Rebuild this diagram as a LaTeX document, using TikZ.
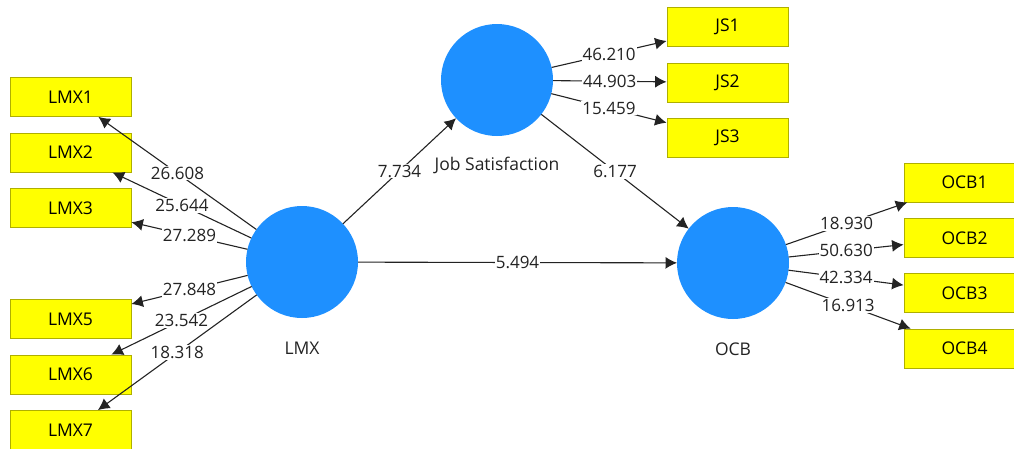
\documentclass[tikz,border=0pt]{standalone}
\usepackage{fontspec}
\setmainfont{Open Sans}
\usetikzlibrary{arrows.meta}
\definecolor{lvblue}{RGB}{30,144,255}
\definecolor{boxfill}{RGB}{255,255,0}
\definecolor{boxline}{RGB}{175,175,0}
\definecolor{edgecol}{RGB}{35,35,35}
\begin{document}
\begin{tikzpicture}[x=1pt,y=-1pt,
  latent/.style={circle,fill=lvblue,minimum size=112pt,inner sep=0pt,outer sep=0pt},
  lvname/.style={anchor=center,label distance=30pt,font=\fontsize{17.5}{20}\selectfont,text=edgecol},
  indicator/.style={rectangle,fill=boxfill,draw=boxline,line width=0.8pt,minimum width=121pt,minimum height=39pt,font=\fontsize{17.5}{20}\selectfont},
  conn/.style={draw=edgecol,line width=1.1pt,-{Latex[length=11.5pt,width=12pt]}},
  wt/.style={fill=white,inner sep=1pt,font=\fontsize{17}{20}\selectfont,text=edgecol}
]
\useasboundingbox (0,0) rectangle (1014,448);
% latent variables
\node[latent,label={[lvname]below:LMX}] (LMX) at (302,262) {};
\node[latent,label={[lvname,label distance=29pt]below:Job Satisfaction}] (JS) at (497,80) {};
\node[latent,label={[lvname]below:OCB}] (OCB) at (733,263) {};
% LMX indicators
\node[indicator] (LMX1) at (70.5,97) {LMX1};
\node[indicator] (LMX2) at (70.5,152.5) {LMX2};
\node[indicator] (LMX3) at (70.5,208) {LMX3};
\node[indicator] (LMX5) at (70.5,319) {LMX5};
\node[indicator] (LMX6) at (70.5,374.5) {LMX6};
\node[indicator] (LMX7) at (70.5,430) {LMX7};
% JS indicators
\node[indicator] (JS1) at (727.5,27) {JS1};
\node[indicator] (JS2) at (727.5,82.5) {JS2};
\node[indicator] (JS3) at (727.5,138) {JS3};
% OCB indicators
\node[indicator] (OCB1) at (964.5,182.5) {OCB1};
\node[indicator] (OCB2) at (964.5,238) {OCB2};
\node[indicator] (OCB3) at (964.5,293) {OCB3};
\node[indicator] (OCB4) at (964.5,348.5) {OCB4};
% outer loadings
\path[conn] (LMX) -- node[wt]{26.608} (LMX1);
\path[conn] (LMX) -- node[wt]{25.644} (LMX2);
\path[conn] (LMX) -- node[wt]{27.289} (LMX3);
\path[conn] (LMX) -- node[wt]{27.848} (LMX5);
\path[conn] (LMX) -- node[wt]{23.542} (LMX6);
\path[conn] (LMX) -- node[wt]{18.318} (LMX7);
\path[conn] (JS) -- node[wt]{46.210} (JS1);
\path[conn] (JS) -- node[wt]{44.903} (JS2);
\path[conn] (JS) -- node[wt]{15.459} (JS3);
\path[conn] (OCB) -- node[wt]{18.930} (OCB1);
\path[conn] (OCB) -- node[wt]{50.630} (OCB2);
\path[conn] (OCB) -- node[wt]{42.334} (OCB3);
\path[conn] (OCB) -- node[wt]{16.913} (OCB4);
% structural paths
\path[conn] (LMX) -- node[wt]{7.734} (JS);
\path[conn] (LMX) -- node[wt]{5.494} (OCB);
\path[conn] (JS) -- node[wt]{6.177} (OCB);
\end{tikzpicture}
\end{document}
